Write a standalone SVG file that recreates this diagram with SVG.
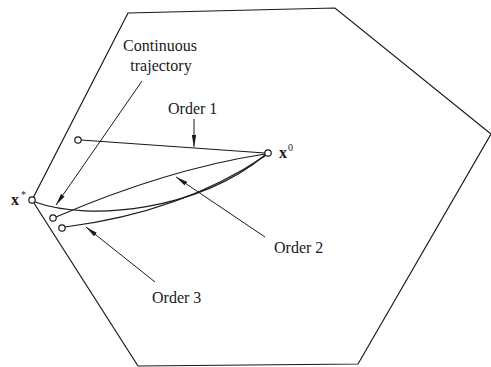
<svg xmlns="http://www.w3.org/2000/svg" width="491" height="367" viewBox="0 0 491 367">
<style>
.edge{fill:none;stroke:#1a1a1a;stroke-width:1.2}
.ptr{fill:none;stroke:#1a1a1a;stroke-width:1}
.pt{fill:#fff;stroke:#1a1a1a;stroke-width:1.2}
.lbl{font-family:"Liberation Serif",serif;font-size:16px;fill:#1a1a1a}
.var{font-family:"Liberation Serif",serif;font-size:16px;font-weight:bold;fill:#1a1a1a}
.sup{font-family:"Liberation Serif",serif;font-size:10px;fill:#1a1a1a}
</style>
<defs>
<marker id="ah" viewBox="0 0 12 6" refX="12" refY="3" markerWidth="12" markerHeight="6" markerUnits="userSpaceOnUse" orient="auto">
<path d="M0,0.8 L12,3 L0,5.2 Z" fill="#1a1a1a"/>
</marker>
</defs>
<rect width="491" height="367" fill="#fff"/>
<g id="region">
<polyline class="edge" points="138,366 32,200 128,13 335,8 491,134 358,364 138,366"/>
</g>
<g id="connectors">
<path id="order1-path" class="edge" d="M81,140 L265,153"/>
<path id="continuous-path" class="edge" d="M35,202 C90,222 200,210 265,155"/>
<path id="order2-path" class="edge" d="M56,217 C100,198 175,168 265,154"/>
<path id="order3-path" class="edge" d="M65,227 C120,220 195,203 265,156"/>
<line class="ptr" x1="194" y1="119" x2="194" y2="147" marker-end="url(#ah)"/>
<line class="ptr" x1="142" y1="81" x2="56" y2="205" marker-end="url(#ah)"/>
<line class="ptr" x1="265" y1="237" x2="176" y2="177" marker-end="url(#ah)"/>
<line class="ptr" x1="155" y1="282" x2="86" y2="227" marker-end="url(#ah)"/>
</g>
<g id="x-star">
<circle class="pt" cx="32" cy="200" r="3.2"/>
<text class="var" x="11" y="205">x</text>
<text class="sup" x="21" y="198">*</text>
</g>
<g id="x-zero">
<circle class="pt" cx="268" cy="153" r="3.2"/>
<text class="var" x="279" y="158">x</text>
<text class="sup" x="288" y="151">0</text>
</g>
<g id="order1-start">
<circle class="pt" cx="78" cy="140" r="3.2"/>
</g>
<g id="order2-start">
<circle class="pt" cx="53" cy="218" r="3.2"/>
</g>
<g id="order3-start">
<circle class="pt" cx="62" cy="228" r="3.2"/>
</g>
<g id="label-continuous">
<text class="lbl" x="160" y="51" text-anchor="middle">Continuous</text>
<text class="lbl" x="161" y="71" text-anchor="middle">trajectory</text>
</g>
<g id="label-order1">
<text class="lbl" x="168" y="114">Order 1</text>
</g>
<g id="label-order2">
<text class="lbl" x="274" y="253">Order 2</text>
</g>
<g id="label-order3">
<text class="lbl" x="152" y="303">Order 3</text>
</g>
</svg>
